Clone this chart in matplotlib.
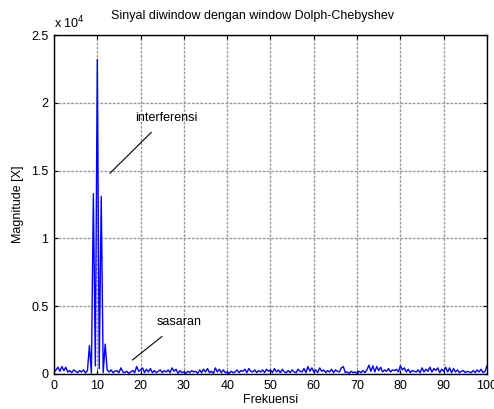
import numpy as np
import matplotlib
matplotlib.use("Agg")
import matplotlib.pyplot as plt
from matplotlib.ticker import FuncFormatter

plt.rcParams['font.family'] = ['Liberation Sans', 'DejaVu Sans']

# Spectrum magnitude of the Dolph-Chebyshev windowed signal (221 bins, 0..100)
freq_start, freq_stop, n_bins = 0.0, 100.0, 221
magnitude = [
    150, 300, 500, 200, 550, 250, 500, 150, 250, 100,
    300, 200, 100, 250, 150, 300, 80, 250, 2100, 60,
    13300, 600, 23200, 400, 13100, 100, 2200, 300, 150, 300,
    100, 200, 250, 100, 450, 150, 100, 200, 50, 150,
    250, 100, 550, 200, 300, 450, 100, 350, 150, 400,
    100, 250, 100, 200, 300, 100, 250, 150, 300, 100,
    450, 200, 350, 50, 250, 100, 150, 50, 200, 100,
    250, 150, 200, 50, 300, 100, 350, 150, 400, 100,
    200, 50, 450, 150, 350, 100, 300, 100, 150, 50,
    200, 100, 150, 300, 100, 250, 200, 350, 100, 400,
    200, 150, 300, 100, 250, 150, 300, 100, 350, 200,
    300, 100, 400, 150, 300, 100, 350, 150, 100, 250,
    100, 300, 150, 100, 350, 200, 150, 400, 100, 550,
    200, 450, 150, 300, 100, 450, 200, 300, 100, 250,
    150, 350, 100, 300, 200, 150, 450, 550, 100, 150,
    50, 200, 100, 150, 50, 200, 100, 250, 100, 300,
    650, 200, 600, 150, 550, 250, 500, 150, 300, 200,
    400, 150, 300, 250, 350, 150, 600, 300, 450, 150,
    350, 100, 250, 200, 150, 300, 100, 450, 150, 350,
    200, 500, 150, 400, 250, 450, 100, 350, 200, 500,
    150, 450, 100, 400, 150, 300, 100, 200, 250, 100,
    200, 150, 100, 250, 100, 300, 150, 350, 100, 200,
    600,
]
freq = np.linspace(freq_start, freq_stop, n_bins)

x_ticks = [0, 10, 20, 30, 40, 50, 60, 70, 80, 90, 100]
y_ticks = [0, 5000, 10000, 15000, 20000, 25000]

fig = plt.figure(figsize=(4.94, 4.09), dpi=100)
ax = fig.add_axes([0.1093, 0.0856, 0.8765, 0.8288])

ax.plot(freq, magnitude, color=(0, 0, 1), linewidth=1.0)

ax.set_xlim(0, 100)
ax.set_ylim(0, 25000)
ax.set_xticks(x_ticks)
ax.set_yticks(y_ticks)
ax.yaxis.set_major_formatter(FuncFormatter(lambda v, p: f"{v / 1e4:g}"))
ax.tick_params(direction='in', top=True, right=True, length=3, width=0.8,
               labelsize=9, pad=4)
ax.grid(True, color='#9a9a9a', linestyle=(0, (2, 1)), linewidth=1.0)
for s in ax.spines.values():
    s.set_linewidth(1.0)

fig.text(0.512, 0.961, 'Sinyal diwindow dengan window Dolph-Chebyshev',
         fontsize=9, ha='center', va='center')
ax.set_xlabel('Frekuensi', fontsize=9, labelpad=2)
ax.set_ylabel('Magnitude [X]', fontsize=9, labelpad=5)
ax.text(0.0, 1.01, r'x 10$^4$', transform=ax.transAxes, fontsize=9,
        ha='left', va='bottom')

ax.annotate('interferensi', xy=(12.9, 14800), xytext=(25.9, 18900),
            fontsize=9, ha='center', va='center',
            arrowprops=dict(arrowstyle='-', color='black', lw=0.8,
                            shrinkA=6, shrinkB=0))
ax.annotate('sasaran', xy=(18.1, 1030), xytext=(29.0, 3800),
            fontsize=9, ha='center', va='center',
            arrowprops=dict(arrowstyle='-', color='black', lw=0.8,
                            shrinkA=6, shrinkB=0))

fig.savefig('out.png', dpi=100)
